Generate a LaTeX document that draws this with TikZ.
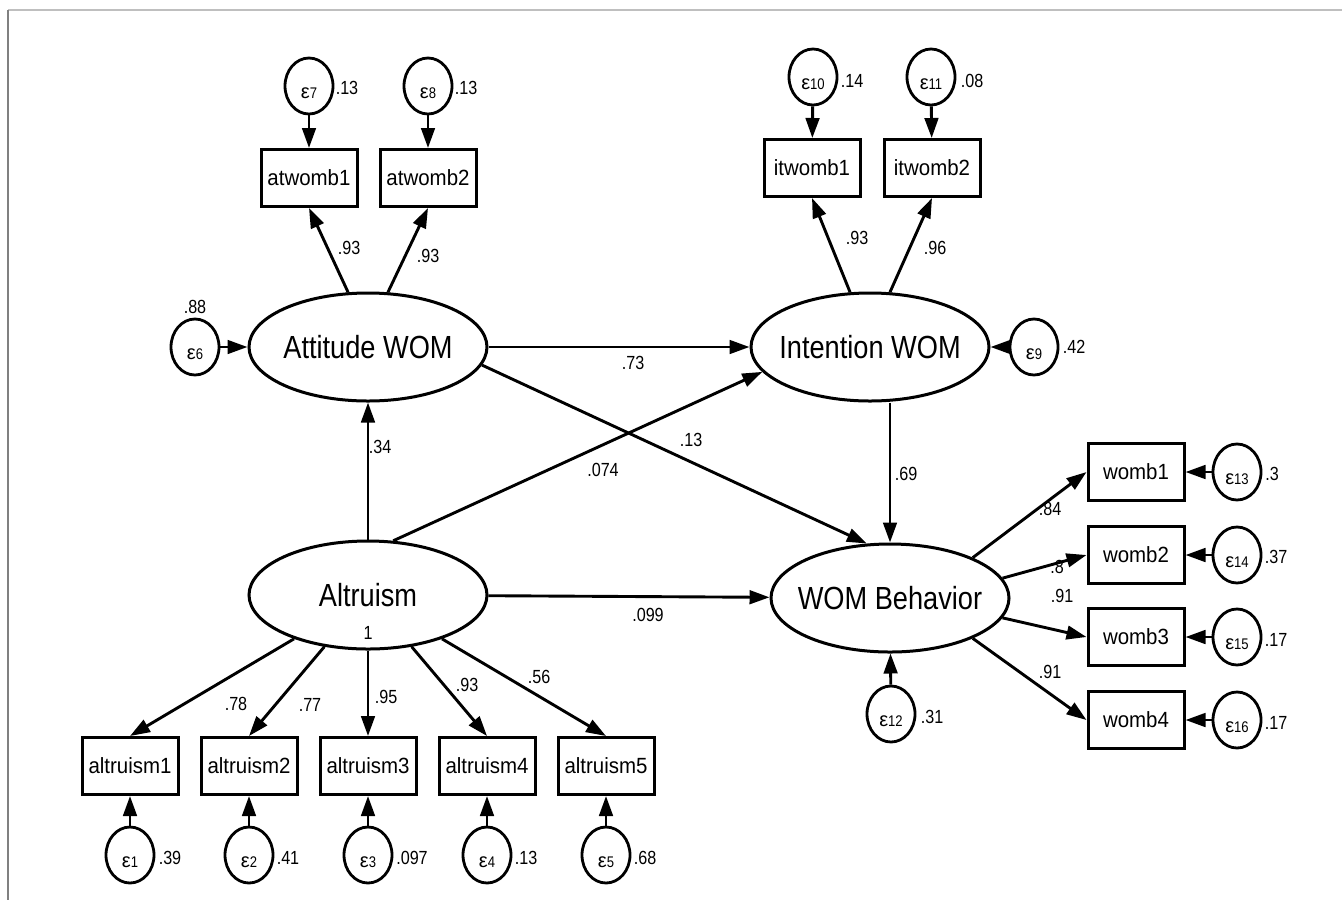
\documentclass[tikz,border=0pt]{standalone}
\usepackage{fontspec}
\setmainfont{Liberation Sans}
\newfontfamily\narrowsans{Liberation Sans}[FakeStretch=0.85]
\newfontfamily\boxsans{Liberation Sans}[FakeStretch=0.93]
\usetikzlibrary{arrows.meta,shapes.geometric}

% epsilon with a subscript, set a little below the centre of its circle
\newcommand{\errlab}[1]{\raisebox{-6.3pt}[0pt][0pt]{\fontsize{10}{10}\selectfont ε\narrowsans\fontsize{7.7}{7.7}\selectfont #1}}
% latent names do not widen their ellipse
\newcommand{\lname}[1]{\makebox[0pt]{#1}}

\begin{document}
\begin{tikzpicture}[x=0.5pt,y=-0.5pt,
  latent/.style={ellipse, draw, line width=1.5pt, minimum width=119pt, minimum height=54pt,
                 inner sep=0pt, font=\narrowsans\fontsize{16}{16}\selectfont},
  observed/.style={rectangle, draw, line width=1.5pt, minimum width=48pt, minimum height=28.5pt,
                 inner sep=0pt, font=\boxsans\fontsize{11}{11}\selectfont},
  errnode/.style={ellipse, draw, line width=1.4pt, minimum width=24pt, minimum height=28pt, inner sep=0pt},
  coef/.style={inner sep=0pt, font=\narrowsans\fontsize{9.5}{9.5}\selectfont},
  path/.style={line width=1.45pt, -{Triangle[length=10pt,width=6.8pt]}}
]
\useasboundingbox (0,0) rectangle (1342,900);

% frame lines
\draw[line width=1pt, black!25] (8,10) -- (1342,10);
\draw[line width=1pt, black!50] (8,10) -- (8,900);

% latent variables
\node[latent] (att) at (368,347) {\lname{Attitude WOM}};
\node[latent] (int) at (870,347) {\lname{Intention WOM}};
\node[latent] (alt) at (368,595) {\lname{Altruism}};
\node[latent] (wb)  at (890,598) {\lname{WOM Behavior}};

% observed indicators
\node[observed] (atw1) at (309,178) {atwomb1};
\node[observed] (atw2) at (428,178) {atwomb2};
\node[observed] (itw1) at (812,168) {itwomb1};
\node[observed] (itw2) at (932,168) {itwomb2};
\node[observed] (a1) at (130,766) {altruism1};
\node[observed] (a2) at (249,766) {altruism2};
\node[observed] (a3) at (368,766) {altruism3};
\node[observed] (a4) at (487,766) {altruism4};
\node[observed] (a5) at (606,766) {altruism5};
\node[observed] (w1) at (1136,472) {womb1};
\node[observed] (w2) at (1136,555) {womb2};
\node[observed] (w3) at (1136,637) {womb3};
\node[observed] (w4) at (1136,720) {womb4};

% error terms
\node[errnode] (e1) at (130,855) {\errlab{1}};
\node[errnode] (e2) at (249,855) {\errlab{2}};
\node[errnode] (e3) at (368,855) {\errlab{3}};
\node[errnode] (e4) at (487,855) {\errlab{4}};
\node[errnode] (e5) at (606,855) {\errlab{5}};
\node[errnode] (e6) at (195,347) {\errlab{6}};
\node[errnode] (e7) at (309,86) {\errlab{7}};
\node[errnode] (e8) at (428,86) {\errlab{8}};
\node[errnode] (e9) at (1034,347) {\errlab{9}};
\node[errnode] (e10) at (813,77) {\errlab{10}};
\node[errnode] (e11) at (931,77) {\errlab{11}};
\node[errnode] (e12) at (891,714) {\errlab{12}};
\node[errnode] (e13) at (1237,472) {\errlab{13}};
\node[errnode] (e14) at (1237,555) {\errlab{14}};
\node[errnode] (e15) at (1237,637) {\errlab{15}};
\node[errnode] (e16) at (1237,720) {\errlab{16}};

% error paths
\foreach \e/\t in {e1/a1,e2/a2,e3/a3,e4/a4,e5/a5,e6/att,e7/atw1,e8/atw2,e9/int,
                   e10/itw1,e11/itw2,e12/wb,e13/w1,e14/w2,e15/w3,e16/w4}
  \draw[path] (\e) -- (\t);

% measurement paths
\draw[path] (att.110) -- (atw1.south);
\draw[path] (att.70)  -- (atw2.south);
\draw[path] (int.110) -- (itw1.south);
\draw[path] (int.70)  -- (itw2.south);
\foreach \t in {a1,a2,a3,a4,a5}
  \draw[path] (alt) -- (\t.north);
\draw[path] (wb.26)  -- (w1.west);
\draw[path] (wb.10)  -- (w2.west);
\draw[path] (wb.-10) -- (w3.west);
\draw[path] (wb.-26) -- (w4.west);

% structural paths
\draw[path] (att) -- (int);
\draw[path] (att.-9) -- (wb.113);
\draw[path] (alt) -- (att);
\draw[path] (alt.65) -- (int.193);
\draw[path] (alt) -- (wb);
\draw[path] (int.south -| wb.north) -- (wb.north);

% estimates
\node[coef] (c7)  at (347,88)  {.13};
\node[coef] (c8)  at (466,88)  {.13};
\node[coef] (c10) at (852,81)  {.14};
\node[coef] (c11) at (972,81)  {.08};
\node[coef] (l1)  at (349,248) {.93};
\node[coef] (l2)  at (428,256) {.93};
\node[coef] (l3)  at (857,238) {.93};
\node[coef] (l4)  at (935,248) {.96};
\node[coef] (c6)  at (195,307) {.88};
\node[coef] (c9)  at (1074,347) {.42};
\node[coef] (s1)  at (633,363) {.73};
\node[coef] (s2)  at (691,440) {.13};
\node[coef] (s3)  at (603,470) {.074};
\node[coef] (s4)  at (380,447) {.34};
\node[coef] (s5)  at (906,474) {.69};
\node[coef] (s6)  at (648,615) {.099};
\node[coef] (v1)  at (368,633) {1};
\node[coef] (m1)  at (236,704) {.78};
\node[coef] (m2)  at (310,705) {.77};
\node[coef] (m3)  at (386,697) {.95};
\node[coef] (m4)  at (467,685) {.93};
\node[coef] (m5)  at (539,677) {.56};
\node[coef] (n1)  at (1050,509) {.84};
\node[coef] (n2)  at (1057,567) {.8};
\node[coef] (n3)  at (1062,596) {.91};
\node[coef] (n4)  at (1050,672) {.91};
\node[coef] (c12) at (932,717) {.31};
\node[coef] (c13) at (1272,474) {.3};
\node[coef] (c14) at (1276,557) {.37};
\node[coef] (c15) at (1276,640) {.17};
\node[coef] (c16) at (1276,723) {.17};
\node[coef] (c1)  at (170,858) {.39};
\node[coef] (c2)  at (288,858) {.41};
\node[coef] (c3)  at (412,858) {.097};
\node[coef] (c4)  at (526,858) {.13};
\node[coef] (c5)  at (645,858) {.68};
\end{tikzpicture}
\end{document}
